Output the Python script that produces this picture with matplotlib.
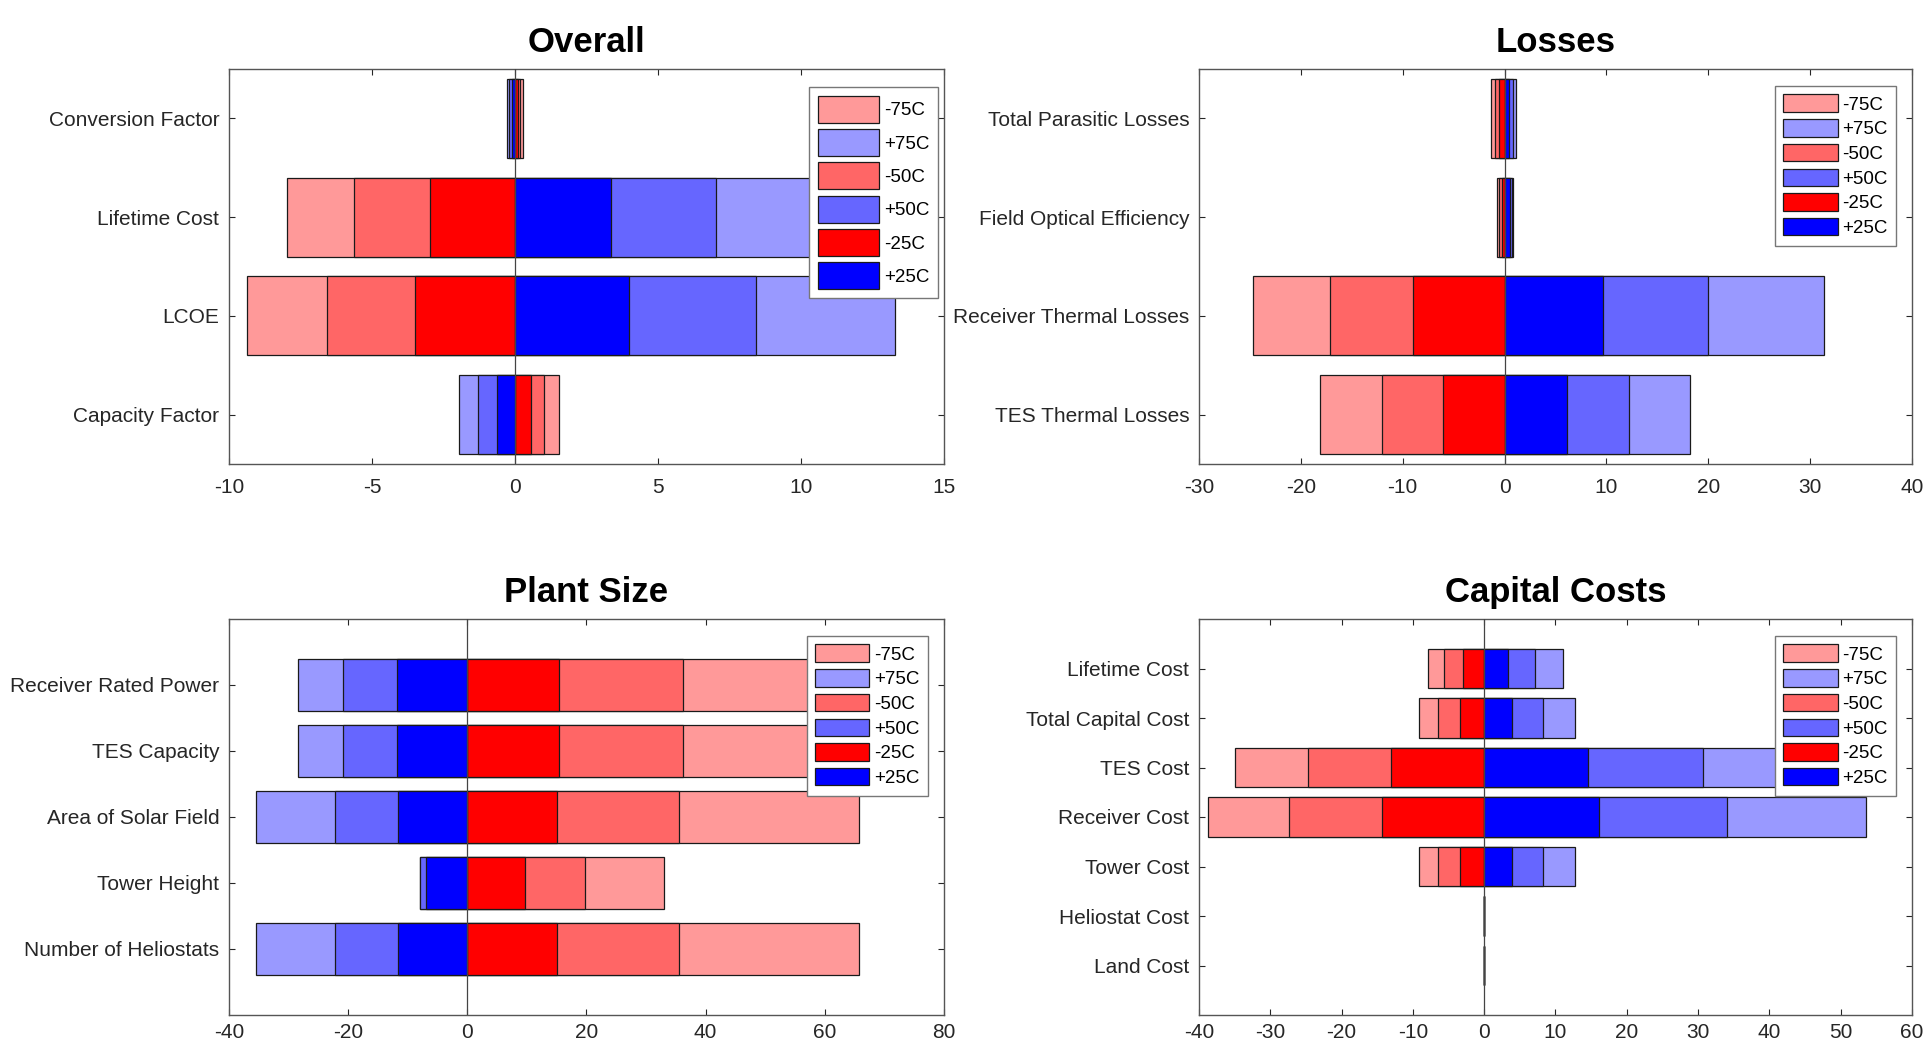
import matplotlib
matplotlib.use("Agg")
import matplotlib.pyplot as plt

plt.rcParams['font.family'] = ['Liberation Sans', 'DejaVu Sans']
plt.rcParams['axes.unicode_minus'] = False

series_labels = ["-75C", "+75C", "-50C", "+50C", "-25C", "+25C"]
series_colors = ["#FF9999", "#9999FF", "#FF6666", "#6666FF", "#FF0000", "#0000FF"]

# Overall (categories listed bottom to top)
overall_cats = ["Capacity Factor", "LCOE", "Lifetime Cost", "Conversion Factor"]
overall_m75 = [1.55, -9.38, -7.98, 0.29]
overall_p75 = [-1.95, 13.28, 11.0, -0.29]
overall_m50 = [1.03, -6.57, -5.62, 0.17]
overall_p50 = [-1.29, 8.41, 7.02, -0.21]
overall_m25 = [0.56, -3.50, -2.98, 0.09]
overall_p25 = [-0.64, 3.97, 3.35, -0.12]

# Losses
losses_cats = ["TES Thermal Losses", "Receiver Thermal Losses",
               "Field Optical Efficiency", "Total Parasitic Losses"]
losses_m75 = [-18.13, -24.7, -0.72, -1.36]
losses_p75 = [18.25, 31.4, 0.86, 1.16]
losses_m50 = [-12.05, -17.17, -0.5, -0.95]
losses_p50 = [12.17, 19.94, 0.7, 0.79]
losses_m25 = [-6.08, -8.98, -0.25, -0.5]
losses_p25 = [6.14, 9.70, 0.5, 0.46]

# Plant Size
plant_cats = ["Number of Heliostats", "Tower Height", "Area of Solar Field",
              "TES Capacity", "Receiver Rated Power"]
plant_m75 = [65.8, 33.06, 65.8, 63.0, 63.0]
plant_p75 = [-35.4, -8.0, -35.4, -28.4, -28.4]
plant_m50 = [35.6, 19.8, 35.6, 36.15, 36.15]
plant_p50 = [-22.2, -7.95, -22.2, -20.9, -20.9]
plant_m25 = [15.0, 9.68, 15.0, 15.45, 15.45]
plant_p25 = [-11.64, -6.98, -11.64, -11.74, -11.74]

# Capital Costs
capital_cats = ["Land Cost", "Heliostat Cost", "Tower Cost", "Receiver Cost",
                "TES Cost", "Total Capital Cost", "Lifetime Cost"]
capital_m75 = [0, 0, -9.2, -38.7, -35.0, -9.2, -7.9]
capital_p75 = [0, 0, 12.8, 53.5, 48.0, 12.8, 11.1]
capital_m50 = [0, 0, -6.45, -27.4, -24.7, -6.45, -5.6]
capital_p50 = [0, 0, 8.18, 34.0, 30.7, 8.18, 7.06]
capital_m25 = [0, 0, -3.44, -14.4, -13.1, -3.44, -3.0]
capital_p25 = [0, 0, 3.87, 16.1, 14.5, 3.87, 3.36]

W, H = 1924, 1044
fig = plt.figure(figsize=(W / 100, H / 100), dpi=100)


def panel(rect_px, title, cats, series, xlim, xticks, ylim, leg_anchor,
          big_legend=False, xpad=10):
    l, t, r, b = rect_px
    ax = fig.add_axes([l / W, 1 - b / H, (r - l) / W, (b - t) / H])
    y = list(range(1, len(cats) + 1))
    for vals, col, lab in zip(series, series_colors, series_labels):
        ax.barh(y, vals, height=0.8, color=col, edgecolor="#1a1a1a",
                linewidth=0.9, label=lab, zorder=2)
    ax.axvline(0, color="#444444", lw=0.9, zorder=3)
    ax.set_xlim(*xlim)
    ax.set_xticks(xticks)
    ax.set_ylim(*ylim)
    ax.set_yticks(y)
    ax.set_yticklabels(cats)
    ax.tick_params(direction="in", top=True, right=True, length=4.5,
                   labelsize=15, colors="#262626")
    ax.tick_params(axis="x", pad=xpad)
    ax.tick_params(axis="y", pad=7)
    for s in ax.spines.values():
        s.set_color("#555555")
        s.set_linewidth(1.0)
    ax.set_title(title, fontsize=25, fontweight="bold", pad=12)
    if big_legend:
        kw = dict(handlelength=3.3, handleheight=1.85, labelspacing=0.33)
    else:
        kw = dict(handlelength=2.9, handleheight=1.05, labelspacing=0.3)
    leg = ax.legend(loc="upper right", bbox_to_anchor=leg_anchor, borderaxespad=0,
                    fontsize=13.5, fancybox=False, framealpha=1, edgecolor="#777777",
                    borderpad=0.45, handletextpad=0.25, **kw)
    leg.get_frame().set_linewidth(1.0)
    return ax


panel((229, 69, 944, 464), "Overall", overall_cats,
      [overall_m75, overall_p75, overall_m50, overall_p50, overall_m25, overall_p25],
      (-10, 15), [-10, -5, 0, 5, 10, 15], (0.5, 4.5), (0.9916, 0.954), big_legend=True)

panel((1199, 69, 1912, 464), "Losses", losses_cats,
      [losses_m75, losses_p75, losses_m50, losses_p50, losses_m25, losses_p25],
      (-30, 40), list(range(-30, 41, 10)), (0.5, 4.5), (0.9776, 0.957))

panel((229, 619, 944, 1015), "Plant Size", plant_cats,
      [plant_m75, plant_p75, plant_m50, plant_p50, plant_m25, plant_p25],
      (-40, 80), list(range(-40, 81, 20)), (0, 6), (0.9776, 0.957), xpad=6)

panel((1199, 619, 1912, 1015), "Capital Costs", capital_cats,
      [capital_m75, capital_p75, capital_m50, capital_p50, capital_m25, capital_p25],
      (-40, 60), list(range(-40, 61, 10)), (0, 8), (0.9776, 0.957), xpad=6)

fig.savefig("out.png", dpi=100)
